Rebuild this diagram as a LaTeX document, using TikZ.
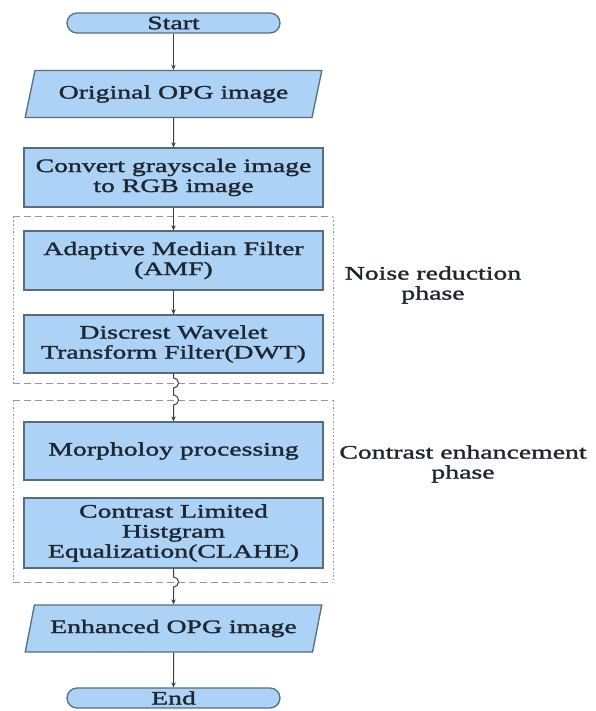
\documentclass[tikz,border=0pt]{standalone}
\usepackage{fontspec}
\setmainfont{Liberation Serif}[FakeStretch=1.46, FakeBold=1.6]
\usetikzlibrary{arrows.meta, calc, positioning, shapes.geometric}
\definecolor{boxfill}{RGB}{172,210,246}
\definecolor{boxedge}{RGB}{88,108,128}
\definecolor{flowgray}{RGB}{62,62,62}
\definecolor{phasegray}{RGB}{150,150,150}
\definecolor{inktext}{RGB}{30,38,48}

\begin{document}
\begin{tikzpicture}[x=1pt, y=1pt, >={Stealth[length=5pt, width=4.5pt]},
    font=\fontsize{19}{20}\selectfont, text=inktext,
    term/.style={draw=boxedge, fill=boxfill, line width=1.3pt, rounded corners=10pt,
      minimum width=213pt, minimum height=20pt, inner sep=0pt},
    iobox/.style={trapezium, trapezium left angle=67, trapezium right angle=113,
      trapezium stretches=true, draw=boxedge, fill=boxfill, line width=1.3pt,
      minimum width=297pt, minimum height=47pt, inner sep=1pt},
    procbox/.style={draw=boxedge, fill=boxfill, line width=1.3pt,
      minimum width=299pt, align=center, inner sep=2pt},
    flow/.style={->, flowgray, line width=1pt},
    phaseline/.style={phasegray, line width=1pt}]
  \useasboundingbox (0,0) rectangle (596,-711);
  % 两个阶段的虚线框
  \coordinate (nr1) at (13,-217);
  \coordinate (nr2) at (333,-383);
  \coordinate (ce1) at (13,-400);
  \coordinate (ce2) at (333,-582);
  \foreach \a/\b in {nr1/nr2, ce1/ce2} {
    \draw[phaseline, dash pattern=on 7pt off 4pt] (\a) -- (\a -| \b) (\a |- \b) -- (\b);
    \draw[phaseline, dash pattern=on 1.5pt off 2pt] (\a) -- (\a |- \b) (\a -| \b) -- (\b);
  }
  \node[align=center] (nrlabel) at (433,-285) {Noise reduction\\phase};
  \node[align=center] (celabel) at (463,-464) {Contrast enhancement\\phase};
  % 流程节点
  \node[term] (start) at (173.5,-23) {Start};
  \node[iobox] (orig) at (173.5,-94) {Original OPG image};
  \node[procbox, minimum height=59pt] (gray2rgb) at (173.5,-177.5)
    {Convert grayscale image\\to RGB image};
  \node[procbox, minimum height=59pt] (amf) at (173.5,-260.5)
    {Adaptive Median Filter\\(AMF)};
  \node[procbox, minimum height=58pt] (dwt) at (173.5,-344)
    {Discrest Wavelet\\Transform Filter(DWT)};
  \node[procbox, minimum height=58pt] (morph) at (173.5,-451)
    {Morpholoy processing};
  \node[procbox, minimum height=70pt] (clahe) at (173.5,-533)
    {Contrast Limited\\Histgram\\Equalization(CLAHE)};
  \node[iobox] (enh) at (173.5,-628.5) {Enhanced OPG image};
  \node[term] (fin) at (173.5,-698) {End};
  % 连线
  \draw[flow] (start) -- (orig);
  \draw[flow] (orig) -- (gray2rgb);
  \draw[flow] (gray2rgb) -- (amf);
  \draw[flow] (amf) -- (dwt);
  % 跨越虚线的跳线
  \draw[flow] (dwt.south) -- ($(dwt.south |- nr2)+(0,5)$)
    arc[start angle=90, end angle=-90, radius=5]
    -- ($(dwt.south |- ce1)+(0,5)$)
    arc[start angle=90, end angle=-90, radius=5] -- (morph.north);
  \draw[flow] (clahe.south) -- ($(clahe.south |- ce2)+(0,5)$)
    arc[start angle=90, end angle=-90, radius=5] -- (enh.north);
  \draw[flow] (enh) -- (fin);
\end{tikzpicture}
\end{document}
